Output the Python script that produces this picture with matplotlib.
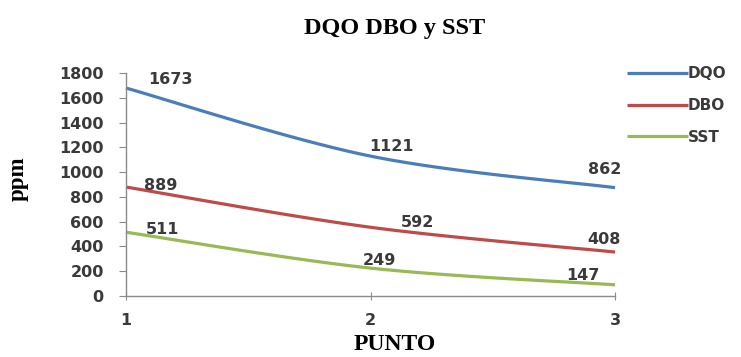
import numpy as np
import matplotlib
matplotlib.use("Agg")
import matplotlib.pyplot as plt

# ---- data ----
puntos = [1, 2, 3]
series_names = ["DQO", "DBO", "SST"]
dqo = [1680, 1130, 875]
dbo = [880, 555, 355]
sst = [515, 225, 90]
dqo_labels = ["1673", "1121", "862"]
dbo_labels = ["889", "592", "408"]
sst_labels = ["511", "249", "147"]
yticks = [0, 200, 400, 600, 800, 1000, 1200, 1400, 1600, 1800]

colors = ["#4A7EBB", "#BE4B48", "#98B954"]
label_offsets = {
    "DQO": [(44, 9), (21, 10), (-10, 18)],
    "DBO": [(35, 2), (47, 5), (-11, 13)],
    "SST": [(37, 3), (9, 8), (-32, 9)],
}


def smooth(xs, ys, n=60):
    """Catmull-Rom style smoothing (like spreadsheet smoothed lines)."""
    xs = np.asarray(xs, float)
    ys = np.asarray(ys, float)
    px = np.concatenate([[xs[0]], xs, [xs[-1]]])
    py = np.concatenate([[ys[0]], ys, [ys[-1]]])
    outx, outy = [], []
    for i in range(1, len(px) - 2):
        p0 = np.array([px[i - 1], py[i - 1]])
        p1 = np.array([px[i], py[i]])
        p2 = np.array([px[i + 1], py[i + 1]])
        p3 = np.array([px[i + 2], py[i + 2]])
        c1 = p1 + (p2 - p0) / 6.0
        c2 = p2 - (p3 - p1) / 6.0
        t = np.linspace(0, 1, n)[:, None]
        b = ((1 - t) ** 3) * p1 + 3 * ((1 - t) ** 2) * t * c1 + 3 * (1 - t) * t ** 2 * c2 + t ** 3 * p2
        outx.extend(b[:, 0])
        outy.extend(b[:, 1])
    return np.array(outx), np.array(outy)


fig = plt.figure(figsize=(7.41, 3.57), dpi=100)
ax = fig.add_axes([0.170, 0.171, 0.660, 0.624])

serif = ["Liberation Serif", "DejaVu Serif"]
tickcolor = "#3a3a3a"
fs = 11.5

for name, vals, labs, col in zip(series_names, [dqo, dbo, sst],
                                 [dqo_labels, dbo_labels, sst_labels], colors):
    sx, sy = smooth(puntos, vals)
    ax.plot(sx, sy, color=col, lw=2.3, label=name, solid_capstyle="butt", clip_on=False)
    for x, v, lab, off in zip(puntos, vals, labs, label_offsets[name]):
        ax.annotate(lab, (x, v), xytext=(off[0] * 0.72, off[1] * 0.72),
                    textcoords="offset points", ha="center", va="center",
                    fontsize=fs, color=tickcolor, fontweight="bold")

ax.set_xlim(1, 3)
ax.set_ylim(0, 1800)
ax.set_xticks(puntos)
ax.set_xticklabels([str(p) for p in puntos])
ax.set_yticks(yticks)
ax.set_yticklabels([str(t) for t in yticks])

for s in ["top", "right"]:
    ax.spines[s].set_visible(False)
for s in ["left", "bottom"]:
    ax.spines[s].set_color("#8a8a8a")
    ax.spines[s].set_linewidth(1.0)

ax.tick_params(axis="x", direction="inout", length=6, color="#8a8a8a", pad=9,
               labelsize=fs, labelcolor=tickcolor)
ax.tick_params(axis="y", direction="out", length=5, color="#8a8a8a", pad=11,
               labelsize=fs, labelcolor=tickcolor)
for lab in ax.get_xticklabels() + ax.get_yticklabels():
    lab.set_fontweight("bold")

fig.text(0.533, 0.92, "DQO DBO y SST", ha="center", va="center",
         fontsize=17.5, fontweight="bold", family=serif)
fig.text(0.533, 0.036, "PUNTO", ha="center", va="center",
         fontsize=17, fontweight="bold", family=serif)
fig.text(0.025, 0.50, "ppm", ha="center", va="center", rotation=90,
         fontsize=16.5, fontweight="bold", family=serif)

leg = ax.legend(loc="upper left", bbox_to_anchor=(0.846, 0.815), frameon=False,
                handlelength=4.0, handletextpad=0.0, labelspacing=1.1,
                borderpad=0, borderaxespad=0,
                fontsize=11, bbox_transform=fig.transFigure)
for t in leg.get_texts():
    t.set_color(tickcolor)
    t.set_fontweight("bold")

fig.savefig("out.png", dpi=100)
